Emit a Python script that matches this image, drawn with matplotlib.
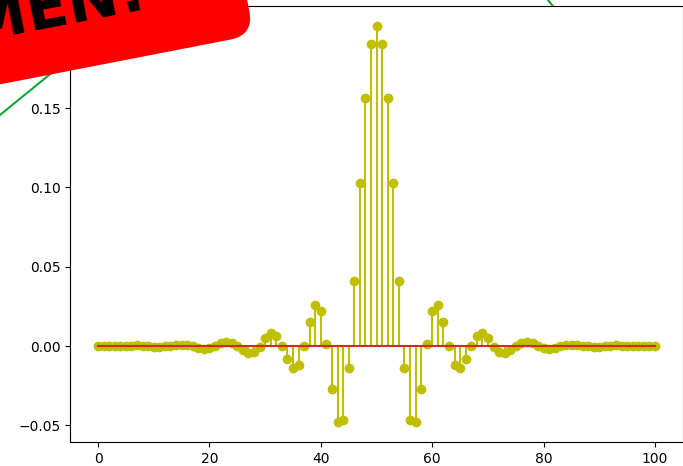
import matplotlib
matplotlib.use("Agg")
import matplotlib.pyplot as plt
from matplotlib.lines import Line2D
from matplotlib.patches import FancyBboxPatch
from matplotlib.transforms import Affine2D

W, H = 683, 466

# filter taps
taps = list(range(101))
coeffs = [
    0.0000, 0.0002, -0.0001, -0.0003, -0.0002, 0.0001, 0.0003, 0.0004, 0.0002, -0.0002,
    -0.0005, -0.0006, -0.0003, 0.0002, 0.0007, 0.0009, 0.0006, -0.0002, -0.0012, -0.0016,
    -0.0011, 0.0003, 0.0018, 0.0026, 0.0021, 0.0002, -0.0024, -0.0041, -0.0038, -0.0008,
    0.0048, 0.0080, 0.0065, 0.0000, -0.0082, -0.0137, -0.0122, 0.0000, 0.0153, 0.0259,
    0.0223, 0.0015, -0.0271, -0.0480, -0.0467, -0.0139, 0.0410, 0.1030, 0.1566, 0.1906,
    0.2020,
    0.1906, 0.1566, 0.1030, 0.0410, -0.0139, -0.0467, -0.0480, -0.0271, 0.0015, 0.0223,
    0.0259, 0.0153, 0.0000, -0.0122, -0.0137, -0.0082, 0.0000, 0.0065, 0.0080, 0.0048,
    -0.0008, -0.0038, -0.0041, -0.0024, 0.0002, 0.0021, 0.0026, 0.0018, 0.0003, -0.0011,
    -0.0016, -0.0012, -0.0002, 0.0006, 0.0009, 0.0007, 0.0002, -0.0003, -0.0006, -0.0005,
    -0.0002, 0.0002, 0.0004, 0.0003, 0.0001, -0.0002, -0.0003, -0.0001, 0.0002, 0.0000,
]
stamp_text = "SPECIMEN!"

fig = plt.figure(figsize=(W / 100, H / 100), dpi=100)
ax = fig.add_axes([70.2 / W, 24.1 / H, 612.7 / W, 435.9 / H])

ax.stem(taps, coeffs, linefmt="y-", markerfmt="yo", basefmt="C3-")

# green lines behind the axes
green = "#0aa83c"
fig.add_artist(Line2D([0, 141 / W], [351 / H, 1], color=green, lw=1.5,
                      transform=fig.transFigure, zorder=-1))
fig.add_artist(Line2D([548 / W, 1], [1, 297 / H], color=green, lw=1.5,
                      transform=fig.transFigure, zorder=-1))

# red stamp box, in pixels, rotated about its lower right corner
box = FancyBboxPatch((254 - 700, 431), 700, 250,
                     boxstyle="round,pad=0,rounding_size=24",
                     fc="red", ec="none",
                     transform=Affine2D().rotate_deg_around(254, 431, 11),
                     zorder=5)
fig.add_artist(box)
fig.text(149 / W, 458 / H, stamp_text, rotation=11, rotation_mode="anchor",
         ha="right", va="baseline", fontsize=44, fontweight="bold", zorder=6)

fig.savefig("out.png", dpi=100)
